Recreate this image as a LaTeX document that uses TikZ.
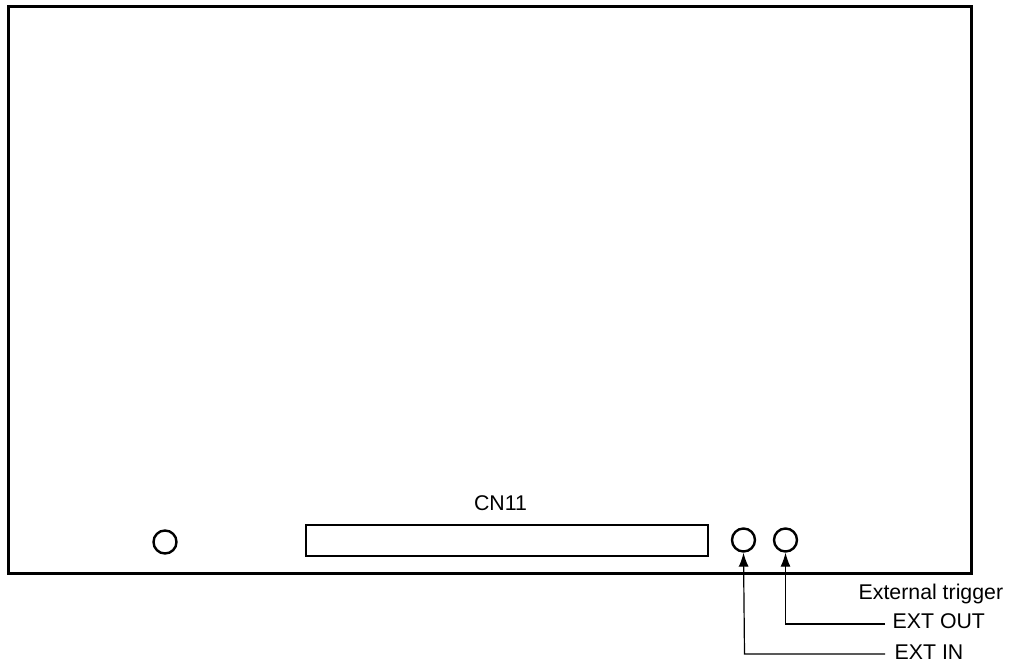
\documentclass[tikz,border=0pt]{standalone}
\usepackage{fontspec}
\setmainfont{Liberation Sans}
\usetikzlibrary{arrows.meta}
\tikzset{
  panel/.style={draw=black,line width=2.8pt,fill=white,minimum width=963pt,minimum height=567pt,inner sep=0pt,anchor=north west},
  hole/.style={circle,draw=black,line width=2.4pt,minimum size=23pt,inner sep=0pt},
  conn/.style={draw=black,line width=2.4pt,minimum width=402pt,minimum height=31pt,inner sep=0pt,anchor=north west},
  lead/.style={draw=black,line width=1.2pt,-{Latex[length=14pt,width=10pt]}},
  lbl/.style={font=\fontsize{21.3pt}{24pt}\selectfont,inner sep=0pt,text=black}
}
\begin{document}
\begin{tikzpicture}[x=1pt,y=-1pt]
\useasboundingbox (0,0) rectangle (1010,666);
\node[panel] (board) at (6.8,5) {};
\node[hole] (h0) at (165,542) {};
\node[conn] (cn) at (304.5,524) {};
\node[hole] (hin) at (743.5,540) {};
\node[hole] (hout) at (785.5,540) {};
\node[lbl] (cnl) at (500.5,503) {CN11};
\node[lbl,anchor=west] (trig) at (858.5,593.5) {External trigger};
\node[lbl,anchor=west] (out) at (892.5,621.5) {EXT OUT};
\node[lbl,anchor=west] (in) at (894.5,652) {EXT IN};
\coordinate (c1) at (785.5,624);
\coordinate (c2) at (744.5,654);
\coordinate (e1) at (885,624);
\coordinate (e2) at (885,654);
\draw[lead] (e1) -- (c1) -- (hout.south);
\draw[lead] (e2) -- (c2) -- (hin.south);
\end{tikzpicture}
\end{document}
